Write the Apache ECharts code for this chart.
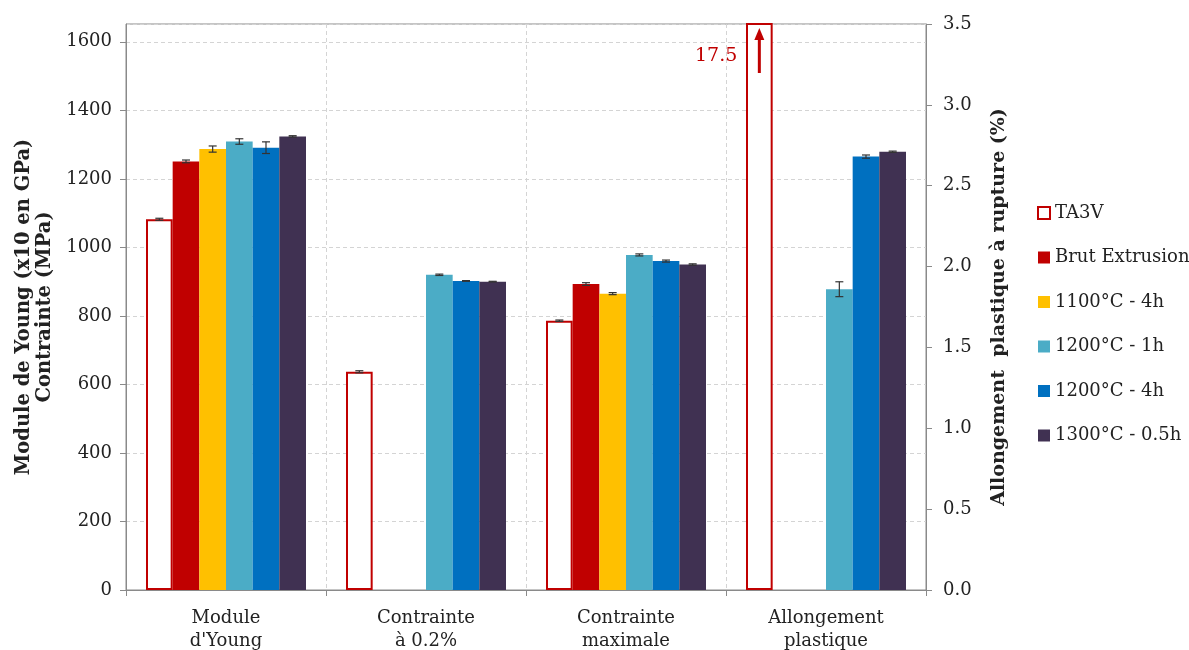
<!DOCTYPE html>
<html><head><meta charset="utf-8">
<script src="https://cdn.jsdelivr.net/npm/echarts@6/dist/echarts.min.js"></script>
<style>html,body{margin:0;padding:0;background:#fff}#c{width:1189px;height:650px}</style>
</head><body><div id="c"></div>
<script>
const categories = ["Module\nd'Young", "Contrainte\nà 0.2%", "Contrainte\nmaximale", "Allongement\nplastique"];
const seriesNames = ['TA3V', 'Brut Extrusion', '1100°C - 4h', '1200°C - 1h', '1200°C - 4h', '1300°C - 0.5h'];
const colors = ['#c00000', '#c00000', '#ffc000', '#4bacc6', '#0070c0', '#403152'];

// Left axis values (Module x10 GPa, Contrainte MPa) for the first three categories
const ta3vLeft    = [1082, 637, 786];
const brutLeft    = [1251, null, 893];
const t1100h4Left = [1287, null, 865];
const t1200h1Left = [1309, 920, 978];
const t1200h4Left = [1291, 902, 960];
const t1300h05Left = [1324, 900, 950];

const ta3vLeftErr    = [3, 3, 2];
const brutLeftErr    = [4, 0, 4];
const t1100h4LeftErr = [9, 0, 3];
const t1200h1LeftErr = [8, 2, 3];
const t1200h4LeftErr = [17, 1, 3];
const t1300h05LeftErr = [2, 1, 2];

// Right axis values (Allongement plastique à rupture, %) for the last category
const elongation    = [17.5, null, null, 1.86, 2.68, 2.71];
const elongationErr = [0, 0, 0, 0.046, 0.01, 0.004];

const leftAxisMin = 0, leftAxisMax = 1652, leftAxisInterval = 200;
const rightAxisMin = 0, rightAxisMax = 3.5, rightAxisInterval = 0.5;

const leftValues = [ta3vLeft, brutLeft, t1100h4Left, t1200h1Left, t1200h4Left, t1300h05Left];
const leftErrors = [ta3vLeftErr, brutLeftErr, t1100h4LeftErr, t1200h1LeftErr, t1200h4LeftErr, t1300h05LeftErr];

const FONT = 'DejaVu Serif';
const AX = '#8a8a8a';
const N = seriesNames.length;

function styleFor(i) {
  if (i === 0) return { color: '#ffffff', borderColor: colors[0], borderWidth: 2 };
  return { color: colors[i], borderWidth: 0 };
}

const series = [];
leftValues.forEach((arr, i) => {
  series.push({
    name: seriesNames[i], type: 'bar', xAxisIndex: 0, yAxisIndex: 0,
    barCategoryGap: '20%', barGap: '0%',
    data: arr.map(v => v == null ? '-' : v).concat(['-']),
    itemStyle: styleFor(i), z: 2
  });
});
seriesNames.forEach((nm, i) => {
  const d = ['-', '-', '-', elongation[i] == null ? '-' : elongation[i]];
  series.push({
    name: nm, type: 'bar', xAxisIndex: 1, yAxisIndex: 1,
    barCategoryGap: '20%', barGap: '0%',
    data: d, itemStyle: styleFor(i), z: 2
  });
});

function barCenter(api, cat, idx, v) {
  const band = api.size([1, 0])[0];
  const bw = band * 0.8 / N;
  return api.coord([cat, v])[0] + (idx - (N - 1) / 2) * bw;
}

function errRender(params, api) {
  const cat = api.value(0), idx = api.value(1), v = api.value(2), e = api.value(3);
  const cx = barCenter(api, cat, idx, v);
  const yHi = api.coord([cat, v + e])[1];
  const yLo = api.coord([cat, v - e])[1];
  const cap = 4;
  const st = { stroke: '#333', lineWidth: 1.2 };
  return { type: 'group', children: [
    { type: 'line', shape: { x1: cx, y1: yHi, x2: cx, y2: yLo }, style: st },
    { type: 'line', shape: { x1: cx - cap, y1: yHi, x2: cx + cap, y2: yHi }, style: st },
    { type: 'line', shape: { x1: cx - cap, y1: yLo, x2: cx + cap, y2: yLo }, style: st }
  ]};
}

const leftErrData = [];
leftValues.forEach((arr, i) => arr.forEach((v, c) => {
  if (v != null) leftErrData.push([c, i, v, leftErrors[i][c]]);
}));
const rightErrData = [];
elongation.forEach((v, i) => {
  if (v != null && elongationErr[i] > 0) rightErrData.push([3, i, v, elongationErr[i]]);
});

series.push({
  name: 'errLeft', type: 'custom', xAxisIndex: 0, yAxisIndex: 0,
  encode: { x: 0, y: 2 }, data: leftErrData, renderItem: errRender, z: 5, silent: true
});
series.push({
  name: 'errRight', type: 'custom', xAxisIndex: 1, yAxisIndex: 1,
  encode: { x: 0, y: 2 }, data: rightErrData, renderItem: errRender, z: 5, silent: true
});

// off-scale annotation (value exceeding right axis max)
const offScale = [];
elongation.forEach((v, i) => { if (v != null && v > rightAxisMax) offScale.push([3, i, rightAxisMax, v]); });
series.push({
  name: 'offScale', type: 'custom', xAxisIndex: 1, yAxisIndex: 1,
  encode: { x: 0, y: 2 }, data: offScale, z: 6, silent: true,
  renderItem: function (params, api) {
    const cat = api.value(0), idx = api.value(1), real = api.value(3);
    const cx = barCenter(api, cat, idx, api.value(2));
    const top = params.coordSys.y;
    const red = '#c00000';
    return { type: 'group', children: [
      { type: 'rect', shape: { x: cx - 1.5, y: top + 14, width: 3, height: 35 }, style: { fill: red } },
      { type: 'polygon', shape: { points: [[cx, top + 4], [cx - 5, top + 16], [cx + 5, top + 16]] }, style: { fill: red } },
      { type: 'text', style: { text: String(real), x: cx - 22, y: top + 32, align: 'right', verticalAlign: 'middle',
          fill: red, font: '19px "' + FONT + '"' } }
    ]};
  }
});

const chart = echarts.init(document.getElementById('c'), null, { renderer: 'canvas' });
chart.setOption({
  animation: false,
  backgroundColor: '#fff',
  grid: { left: 126, right: 263, top: 24, bottom: 60, containLabel: false, outerBoundsMode: 'none',
    show: true, borderColor: AX, borderWidth: 1, backgroundColor: 'transparent' },
  legend: {
    orient: 'vertical', left: 1032, top: 199,
    itemWidth: 12, itemHeight: 12, itemGap: 26.5,
    icon: 'rect',
    textStyle: { fontFamily: FONT, fontSize: 18, color: '#222' },
    data: seriesNames.map((n, i) => ({ name: n, icon: 'rect', itemStyle: i === 0 ? { color: '#fff', borderColor: colors[0], borderWidth: 2 } : { color: colors[i], borderWidth: 0 } }))
  },
  xAxis: [
    {
      type: 'category', data: categories, gridIndex: 0,
      axisLine: { show: true, lineStyle: { color: AX } },
      axisTick: { show: true, inside: false, length: 6, lineStyle: { color: AX } },
      splitLine: { show: true, lineStyle: { color: '#d4d4d4', type: [4, 3] } },
      axisLabel: { interval: 0, margin: 17, fontFamily: FONT, fontSize: 18, lineHeight: 23, color: '#222' }
    },
    { type: 'category', data: categories, gridIndex: 0, show: false }
  ],
  yAxis: [
    {
      type: 'value', min: leftAxisMin, max: leftAxisMax, interval: leftAxisInterval,
      position: 'left',
      name: 'Module de Young (x10 en GPa)\nContrainte (MPa)',
      nameLocation: 'middle', nameGap: 62,
      nameTextStyle: { fontFamily: FONT, fontSize: 19.5, fontWeight: 'bold', lineHeight: 21, color: '#222' },
      axisLine: { show: true, lineStyle: { color: AX } },
      axisTick: { show: true, inside: false, length: 6, lineStyle: { color: AX } },
      splitLine: { show: true, lineStyle: { color: '#d4d4d4', type: [4, 3] } },
      axisLabel: { margin: 14, fontFamily: FONT, fontSize: 18, color: '#222', showMaxLabel: false,
        formatter: v => String(v) }
    },
    {
      type: 'value', min: rightAxisMin, max: rightAxisMax, interval: rightAxisInterval,
      position: 'right',
      name: 'Allongement  plastique à rupture (%)',
      nameLocation: 'middle', nameGap: 64,
      nameTextStyle: { fontFamily: FONT, fontSize: 19, fontWeight: 'bold', color: '#222' },
      axisLine: { show: true, lineStyle: { color: AX } },
      axisTick: { show: true, inside: false, length: 6, lineStyle: { color: AX } },
      splitLine: { show: false },
      axisLabel: { margin: 17, fontFamily: FONT, fontSize: 18, color: '#222', formatter: v => v.toFixed(1) }
    }
  ],
  series: series
});
</script>
</body></html>
